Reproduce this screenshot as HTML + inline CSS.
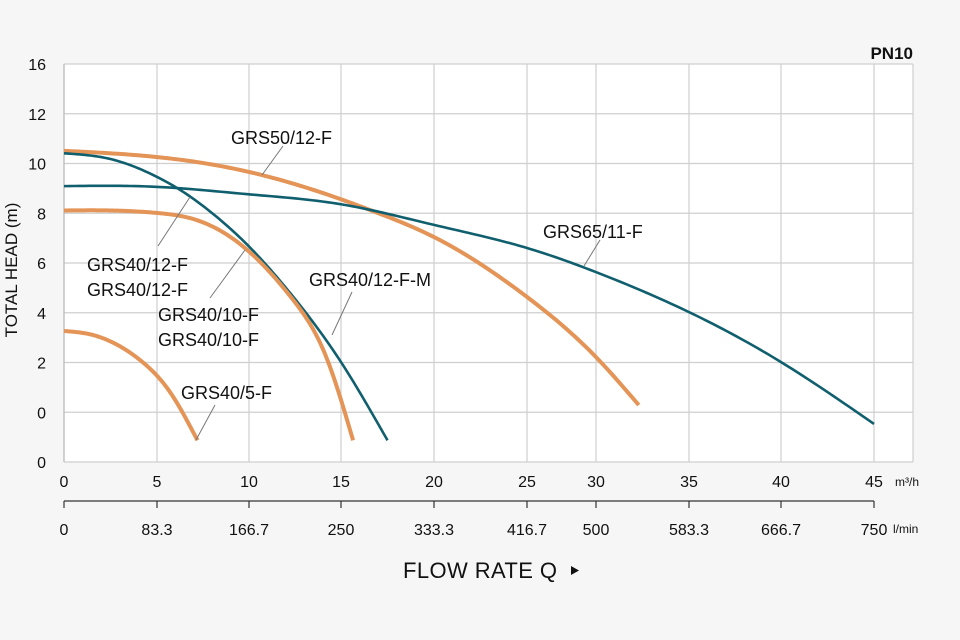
<!DOCTYPE html>
<html><head><meta charset="utf-8"><style>
html,body{margin:0;padding:0;background:#f6f6f6;}
svg{display:block;font-family:"Liberation Sans",sans-serif;}
</style></head><body>
<svg id="chart" width="960" height="640" viewBox="0 0 960 640">
<rect x="64" y="64" width="849" height="398" fill="#ffffff"/>
<g id="grid"></g>
<g id="curves"></g>
<g id="axes"></g>
<g id="labels" font-size="18" fill="#111"></g>
<text x="913" y="59" text-anchor="end" font-size="17" font-weight="bold" fill="#111">PN10</text>
<text transform="translate(17,270) rotate(-90)" text-anchor="middle" font-size="17" fill="#111">TOTAL HEAD (m)</text>
<text x="403" y="578" font-size="22" textLength="154" fill="#111">FLOW RATE Q</text>
<path d="M571 566 L579 570.5 L571 575 Z" fill="#111"/>
<text x="895" y="486" font-size="12" fill="#111">m³/h</text>
<text x="893" y="533" font-size="12" fill="#111">l/min</text>
</svg>
<script>
const xTicks = [0,5,10,15,20,25,30,35,40,45];
const xTickLabels = ["0","5","10","15","20","25","30","35","40","45"];
const lminLabels = ["0","83.3","166.7","250","333.3","416.7","500","583.3","666.7","750"];
const yTickLabels = ["16","12","10","8","6","4","2","0","0"];
const seriesNames = ["GRS50/12-F","GRS65/11-F","GRS40/12-F-M","GRS40/10-F","GRS40/5-F"];
const q50 = [0,5,10,15,16.7,20,25,30,32.3];
const h50 = [10.55,10.3,9.7,8.6,8.13,7.08,4.67,2.25,0.32];
const q65 = [0,5,10,15,20,25,30,35,40,45];
const h65 = [9.13,9.1,8.8,8.4,7.57,6.64,5.67,4.06,2.05,-0.44];
const q12m = [0,2.5,5,6.1,7.9,10,12.4,15,17.5];
const h12m = [10.45,10.22,9.5,9.05,8.1,6.7,4.68,2.05,-1.1];
const q10 = [0,3,5,7,10,12.4,14.2,15.65];
const h10 = [8.15,8.14,8.05,7.8,6.5,4.55,2.25,-1.1];
const q5 = [0,1.5,2.5,4.3,5.7,7.2];
const h5 = [3.3,3.15,2.88,2.0,0.85,-1.1];

const xPix = [64,157,249,341,434,527,596,689,781,874];
function xs(q){
  for(let i=0;i<xTicks.length-1;i++){
    if(q<=xTicks[i+1]||i===xTicks.length-2){
      const t=(q-xTicks[i])/(xTicks[i+1]-xTicks[i]);
      return xPix[i]+t*(xPix[i+1]-xPix[i]);
    }
  }
}
function ys(h){ return 413 - h*24.85; }
const NS="http://www.w3.org/2000/svg";
function mk(tag,attrs,parent){const e=document.createElementNS(NS,tag);for(const k in attrs)e.setAttribute(k,attrs[k]);parent.appendChild(e);return e;}
const grid=document.getElementById('grid'),axes=document.getElementById('axes'),curves=document.getElementById('curves'),labels=document.getElementById('labels');

yTickLabels.forEach((lab,i)=>{
  const y=64+i*49.75;
  const l=mk('line',{x1:64,x2:913,y1:y,y2:y,stroke:'#cfcfcf','stroke-width':1.2},grid);
  
  
  const t=mk('text',{x:46,y:y+6,'text-anchor':'end','font-size':16,fill:'#111'},axes);
  t.textContent=lab;
  
  
});
xTicks.forEach((v,i)=>{
  const x=xs(v);
  const l=mk('line',{x1:x,x2:x,y1:64,y2:462,stroke:'#cfcfcf','stroke-width':1.2},grid);
  
  
  const t=mk('text',{x:x,y:487,'text-anchor':'middle','font-size':16,fill:'#111'},axes);
  t.textContent=xTickLabels[i];
  
  
  const tk=mk('line',{x1:x,x2:x,y1:501,y2:508,stroke:'#333','stroke-width':1.2},axes);
  
  
  const t2=mk('text',{x:x,y:535,'text-anchor':'middle','font-size':16,fill:'#111'},axes);
  t2.textContent=lminLabels[i];
  
  
});
const r=mk('line',{x1:913,x2:913,y1:64,y2:462,stroke:'#cfcfcf','stroke-width':1.2},grid);


const l0=mk('line',{x1:64,x2:64,y1:64,y2:462,stroke:'#bbb','stroke-width':1.2},grid);


const al=mk('line',{x1:64,x2:874,y1:501,y2:501,stroke:'#333','stroke-width':1.2},axes);



// natural cubic spline (in pixel space), sampled finely
function spline(xv,yv){
  const n=xv.length,h=[],a=[],l=[1],mu=[0],z=[0],c=new Array(n).fill(0),b=[],d=[];
  for(let i=0;i<n-1;i++)h[i]=xv[i+1]-xv[i];
  for(let i=1;i<n-1;i++)a[i]=3/h[i]*(yv[i+1]-yv[i])-3/h[i-1]*(yv[i]-yv[i-1]);
  for(let i=1;i<n-1;i++){l[i]=2*(xv[i+1]-xv[i-1])-h[i-1]*mu[i-1];mu[i]=h[i]/l[i];z[i]=(a[i]-h[i-1]*z[i-1])/l[i];}
  for(let j=n-2;j>=1;j--){c[j]=z[j]-mu[j]*c[j+1];}
  for(let j=0;j<n-1;j++){b[j]=(yv[j+1]-yv[j])/h[j]-h[j]*(c[j+1]+2*c[j])/3;d[j]=(c[j+1]-c[j])/(3*h[j]);}
  return x=>{let j=0;while(j<n-2&&x>xv[j+1])j++;const t=x-xv[j];return yv[j]+b[j]*t+c[j]*t*t+d[j]*t*t*t;};
}
const series=[[q50,h50,'#e39456',4,'curve-grs50-12-f'],[q65,h65,'#105f6e',2.6,'curve-grs65-11-f'],[q12m,h12m,'#105f6e',2.6,'curve-grs40-12-f-m'],[q10,h10,'#e39456',4,'curve-grs40-10-f'],[q5,h5,'#e39456',4,'curve-grs40-5-f']];
series.forEach(s=>{
  const px=s[0].map(xs),py=s[1].map(ys);
  const f=spline(px,py);
  const x0=px[0],x1=px[px.length-1],N=160;
  let d='';
  for(let k=0;k<=N;k++){const x=x0+(x1-x0)*k/N;d+=(k?'L':'M')+x.toFixed(2)+','+f(x).toFixed(2);}
  const p=mk('path',{d:d,fill:'none',stroke:s[2],'stroke-width':s[3],'stroke-linejoin':'round'},curves);
  
  
});

const lbls=[["GRS50/12-F",231,144,283,146,262,175],["GRS40/12-F",87,271,158,246,190,197],["GRS40/12-F",87,296,null],["GRS40/10-F",158,321,210,298,245,250],["GRS40/10-F",158,346,null],["GRS40/12-F-M",309,286,352,292,332,335],["GRS65/11-F",543,238,600,240,584,266],["GRS40/5-F",181,399,215,405,196,440]];
lbls.forEach(a=>{
  const t=mk('text',{x:a[1],y:a[2]},labels);
  t.textContent=a[0];
  
  
  if(a[3]!==null){
    const l=mk('line',{x1:a[3],y1:a[4],x2:a[5],y2:a[6],stroke:'#777','stroke-width':1},labels);
    
    
  }
});
</script>
</body></html>
